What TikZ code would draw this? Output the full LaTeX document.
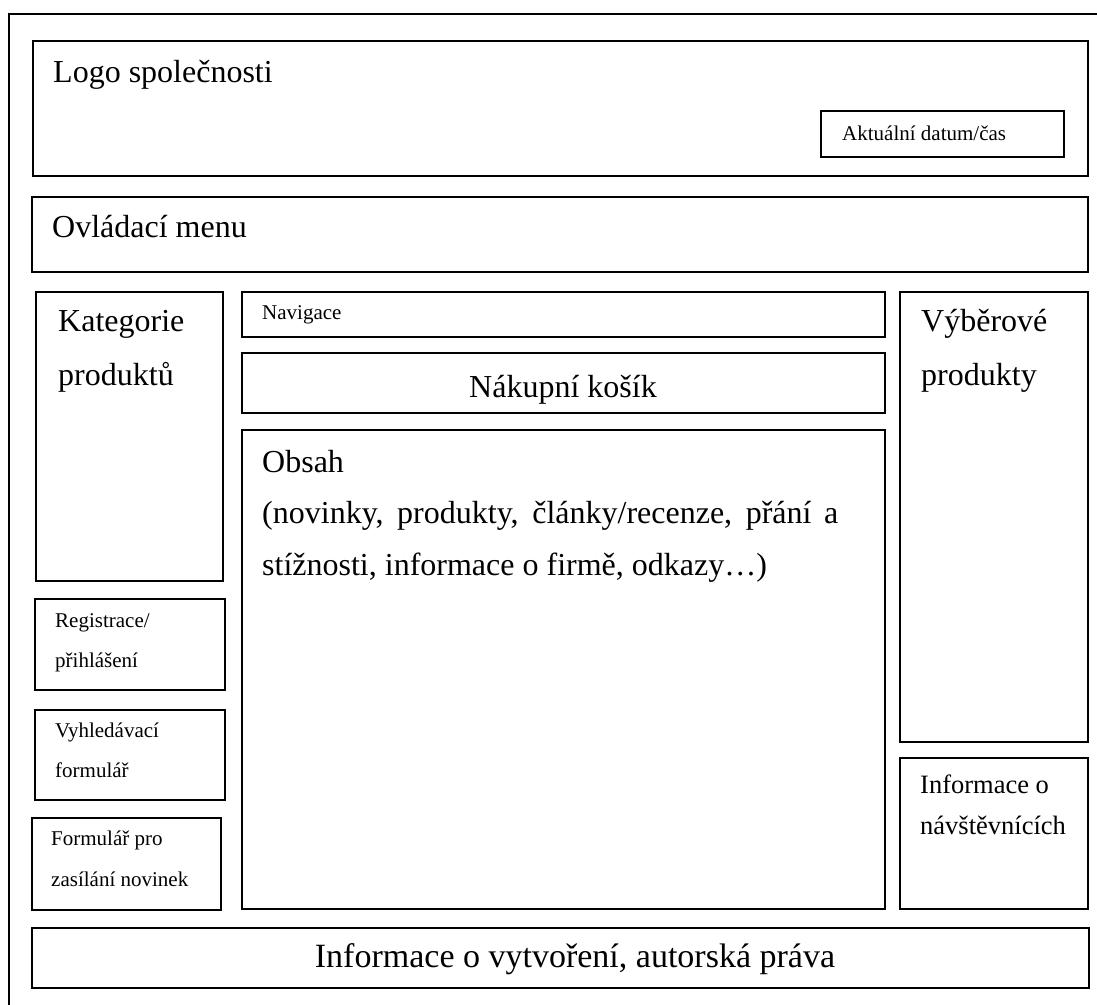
\documentclass[tikz,border=0pt]{standalone}
\usepackage{fontspec}
\setmainfont{Liberation Serif}
\begin{document}
\begin{tikzpicture}[x=1pt,y=-1pt,
  frame/.style={draw=black,line width=1.6pt},
  box/.style={draw=black,line width=1.6pt,inner sep=0pt,anchor=north west},
  big/.style={font=\fontsize{32}{38}\selectfont,inner sep=0pt,anchor=base west},
  mid/.style={font=\fontsize{26.5}{32}\selectfont,inner sep=0pt,anchor=base west},
  small/.style={font=\fontsize{21}{25}\selectfont,inner sep=0pt,anchor=base west}]
% page area; the outer frame runs past the right and bottom edges
\clip (0,0) rectangle (1097,1004);
\fill[white] (0,0) rectangle (1097,1004);
\draw[frame] (9,14) rectangle (1120,1030);

% header
\node[box,minimum width=1055pt,minimum height=135pt] (logo) at (32,40) {};
\node[big] (tlogo) at (53,82) {Logo společnosti};
\node[box,minimum width=243pt,minimum height=46pt] (datum) at (820,110) {};
\node[small] (tdatum) at (842,140) {Aktuální datum/čas};

% menu bar
\node[box,minimum width=1056pt,minimum height=75pt] (menu) at (31,196) {};
\node[big] (tmenu) at (52,237) {Ovládací menu};

% left column
\node[box,minimum width=187pt,minimum height=289pt] (kat) at (35,291) {};
\node[big] (tkat1) at (58,331) {Kategorie};
\node[big] (tkat2) at (58,385) {produktů};
\node[box,minimum width=190pt,minimum height=91pt] (reg) at (34,598) {};
\node[small] (treg1) at (55,627) {Registrace/};
\node[small] (treg2) at (55,667) {přihlášení};
\node[box,minimum width=190pt,minimum height=90pt] (hled) at (34,709) {};
\node[small] (thled1) at (55,737) {Vyhledávací};
\node[small] (thled2) at (55,777) {formulář};
\node[box,minimum width=189pt,minimum height=92pt] (news) at (31,817) {};
\node[small] (tnews1) at (51,845) {Formulář pro};
\node[small] (tnews2) at (51,886) {zasílání novinek};

% centre column
\node[box,minimum width=643pt,minimum height=45pt] (nav) at (241,291) {};
\node[small] (tnav) at (262,319) {Navigace};
\node[box,minimum width=643pt,minimum height=60pt] (kos) at (241,352) {};
\node[font=\fontsize{32}{38}\selectfont,inner sep=0pt,anchor=base] (tkos) at (563,397) {Nákupní košík};
\node[box,minimum width=643pt,minimum height=479pt] (obsah) at (241,429) {};
\node[big] (tobs1) at (262,472) {Obsah};
\node[big] (tobs2) at (262,523) {\makebox[576pt][s]{(novinky, produkty, články/recenze, přání a}};
\node[big] (tobs3) at (262,575) {stížnosti, informace o firmě, odkazy…)};

% right column
\node[box,minimum width=188pt,minimum height=450pt] (vyb) at (899,291) {};
\node[big] (tvyb1) at (921,331) {Výběrové};
\node[big] (tvyb2) at (921,385) {produkty};
\node[box,minimum width=188pt,minimum height=151pt] (nav2) at (899,757) {};
\node[mid] (tinf1) at (920,793) {Informace o};
\node[mid] (tinf2) at (920,834) {návštěvnících};

% footer
\node[box,minimum width=1057pt,minimum height=60pt] (pata) at (31,927) {};
\node[font=\fontsize{34}{40}\selectfont,inner sep=0pt,anchor=base] (tpata) at (575,967) {Informace o vytvoření, autorská práva};
\end{tikzpicture}
\end{document}
